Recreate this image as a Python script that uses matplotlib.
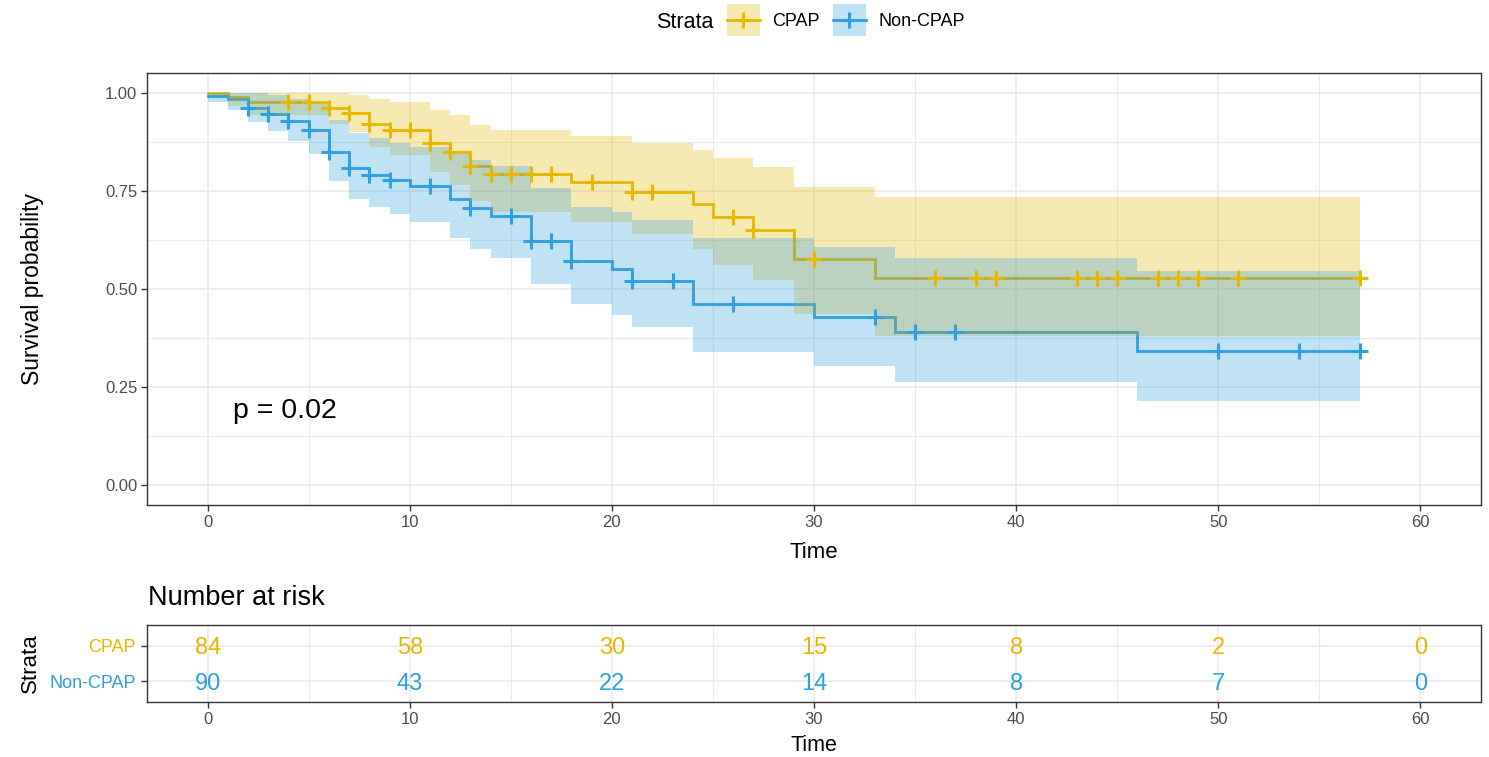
import numpy as np
import matplotlib
matplotlib.use("Agg")
import matplotlib.pyplot as plt
from matplotlib.patches import Patch
from matplotlib.lines import Line2D
from matplotlib.legend_handler import HandlerLine2D
from matplotlib.ticker import MultipleLocator

plt.rcParams['font.family'] = ['Liberation Sans', 'DejaVu Sans']

# ---------------- data ----------------
groups = ["CPAP", "Non-CPAP"]
group_colors = ["#E7B800", "#2E9FDF"]

# CPAP Kaplan-Meier steps
cpap_time  = [0, 1, 2, 6, 7, 8, 9, 11, 12, 13, 14, 18, 21, 24, 25, 27, 29, 33]
cpap_surv  = [1.000, 0.988, 0.976, 0.961, 0.947, 0.920, 0.906, 0.872, 0.850, 0.814,
              0.793, 0.772, 0.748, 0.717, 0.684, 0.650, 0.577, 0.528]
cpap_lower = [1.000, 0.965, 0.944, 0.921, 0.901, 0.862, 0.842, 0.797, 0.766, 0.723,
              0.696, 0.670, 0.641, 0.601, 0.561, 0.522, 0.437, 0.381]
cpap_upper = [1.000, 1.000, 1.000, 1.000, 0.995, 0.983, 0.976, 0.955, 0.944, 0.917,
              0.904, 0.890, 0.873, 0.855, 0.834, 0.810, 0.759, 0.733]
cpap_censor = [4, 5, 6, 7, 8, 9, 10, 11, 12, 13, 14, 15, 16, 17, 19, 21, 22, 26, 27,
               30, 36, 38, 39, 43, 44, 45, 47, 48, 49, 51, 57]

# Non-CPAP Kaplan-Meier steps
noncpap_time  = [0, 1, 2, 3, 4, 5, 6, 7, 8, 9, 10, 12, 13, 14, 16, 18, 20, 21, 24, 30, 34, 46]
noncpap_surv  = [0.992, 0.983, 0.962, 0.946, 0.929, 0.906, 0.848, 0.808, 0.791, 0.778,
                 0.761, 0.730, 0.706, 0.686, 0.621, 0.572, 0.551, 0.520, 0.462, 0.429,
                 0.390, 0.343]
noncpap_lower = [0.975, 0.955, 0.925, 0.902, 0.878, 0.845, 0.775, 0.728, 0.710, 0.692,
                 0.671, 0.631, 0.603, 0.578, 0.512, 0.461, 0.434, 0.402, 0.340, 0.304,
                 0.263, 0.216]
noncpap_upper = [1.000, 1.000, 1.000, 0.995, 0.985, 0.972, 0.930, 0.898, 0.884, 0.872,
                 0.862, 0.845, 0.828, 0.814, 0.756, 0.710, 0.697, 0.675, 0.630, 0.606,
                 0.578, 0.547]
noncpap_censor = [2, 3, 4, 5, 6, 7, 8, 9, 11, 13, 15, 16, 17, 18, 21, 23, 26, 33, 35,
                  37, 50, 54, 57]

# Number at risk
risk_times = [0, 10, 20, 30, 40, 50, 60]
risk_cpap = [84, 58, 30, 15, 8, 2, 0]
risk_noncpap = [90, 43, 22, 14, 8, 7, 0]

p_value_label = "p = 0.02"
y_tick_labels = ["0.00", "0.25", "0.50", "0.75", "1.00"]

series = [
    (cpap_time, cpap_surv, cpap_lower, cpap_upper, cpap_censor),
    (noncpap_time, noncpap_surv, noncpap_lower, noncpap_upper, noncpap_censor),
]
risk_counts = [risk_cpap, risk_noncpap]

# ---------------- figure ----------------
W, H = 1489, 757
fig = plt.figure(figsize=(W / 100, H / 100), dpi=100)

def fbox(l, t, r, b):
    return [l / W, 1 - b / H, (r - l) / W, (b - t) / H]

grid_c = "#EBEBEB"
border_c = "#333333"
tick_c = "#4D4D4D"
LW = 2.0
MS = 12
MEW = 2.2

ax = fig.add_axes(fbox(147, 73, 1481, 505))
ax.set_xlim(-3, 63)
ax.set_ylim(-0.05, 1.05)
ax.xaxis.set_major_locator(MultipleLocator(10))
ax.xaxis.set_minor_locator(MultipleLocator(5))
ax.set_yticks([0, 0.25, 0.5, 0.75, 1.0])
ax.set_yticklabels(y_tick_labels)
ax.yaxis.set_minor_locator(MultipleLocator(0.125))
ax.grid(which="major", color=grid_c, lw=1.2)
ax.grid(which="minor", color=grid_c, lw=0.8)
ax.set_axisbelow(True)
for s in ax.spines.values():
    s.set_color(border_c)
    s.set_linewidth(1.0)
ax.tick_params(which="major", length=4, width=1.0, color=border_c,
               labelcolor=tick_c, labelsize=12, pad=3)
ax.tick_params(which="minor", length=0)

for (t, s, lo, up, cens), col in zip(series, group_colors):
    t = np.asarray(t, float)
    s = np.asarray(s, float)
    lo = np.asarray(lo, float)
    up = np.asarray(up, float)
    t_end = max(max(cens), t[-1])
    tx = np.append(t, t_end)
    sx = np.append(s, s[-1])
    lx = np.append(lo, lo[-1])
    ux = np.append(up, up[-1])
    ax.step(tx, sx, where="post", color=col, lw=LW, zorder=2,
            solid_joinstyle="miter")
    ax.fill_between(tx, lx, ux, step="post", color=col, alpha=0.3, lw=0, zorder=3)
    idx = np.searchsorted(t, np.asarray(cens, float), side="right") - 1
    ax.plot(cens, s[idx], ls="none", marker="+", ms=MS, mew=MEW, color=col, zorder=4)

ax.text(1.25, 0.19, p_value_label, fontsize=20.5, ha="left", va="center", color="black")

ax.set_xlabel("Time", fontsize=16, color="black")
ax.xaxis.label.set_va("center")
ax.xaxis.set_label_coords(0.5, -0.11)
ax.set_ylabel("Survival probability", fontsize=16.5, color="black")
ax.yaxis.label.set_va("center")
ax.yaxis.set_label_coords(-0.0862, 0.5)


# legend: line centred within the filled key box
class CenteredLineHandler(HandlerLine2D):
    def create_artists(self, legend, orig_handle, xdescent, ydescent,
                       width, height, fontsize, trans):
        arts = super().create_artists(legend, orig_handle, xdescent, ydescent,
                                      width, height, fontsize, trans)
        yc = height / 2 - ydescent
        for a in arts:
            a.set_ydata([yc] * len(a.get_xdata()))
        return arts


handles = []
for col in group_colors:
    handles.append((Patch(facecolor=col, alpha=0.3, edgecolor="none"),
                    Line2D([], [], color=col, lw=LW, marker="+", ms=MS, mew=MEW)))
fig.text(685 / W, 1 - 22 / H, "Strata", fontsize=15.5, ha="center", va="center")
leg = fig.legend(handles, groups, ncol=2, loc="center left",
                 bbox_to_anchor=(727 / W, 1 - 20 / H), frameon=False,
                 borderpad=0, borderaxespad=0, handlelength=1.8, handleheight=2.36,
                 handletextpad=0.7, columnspacing=0.75, fontsize=13,
                 handler_map={Line2D: CenteredLineHandler()})

# ---------------- risk table ----------------
ax2 = fig.add_axes(fbox(147, 625, 1481, 702))
ax2.set_xlim(-3, 63)
ax2.set_ylim(0.4, 2.6)
ax2.xaxis.set_major_locator(MultipleLocator(10))
ax2.xaxis.set_minor_locator(MultipleLocator(5))
ypos = [2, 1]
ax2.set_yticks(ypos)
ax2.set_yticklabels(groups)
for lab, col in zip(ax2.get_yticklabels(), group_colors):
    lab.set_color(col)
ax2.grid(which="major", color=grid_c, lw=1.2)
ax2.grid(which="minor", axis="x", color=grid_c, lw=0.8)
ax2.set_axisbelow(True)
for s in ax2.spines.values():
    s.set_color(border_c)
    s.set_linewidth(1.0)
ax2.tick_params(which="major", length=4, width=1.0, color=border_c, labelsize=12, pad=3)
ax2.tick_params(axis="y", labelsize=13, pad=4)
ax2.tick_params(axis="x", labelcolor=tick_c)
ax2.tick_params(which="minor", length=0)

for counts, yp, col in zip(risk_counts, ypos, group_colors):
    for tt, n in zip(risk_times, counts):
        ax2.text(tt, yp, str(n), color=col, fontsize=17, ha="center",
                 va="center_baseline")

ax2.set_xlabel("Time", fontsize=15.5, color="black")
ax2.xaxis.label.set_va("center")
ax2.xaxis.set_label_coords(0.5, -0.56)
ax2.set_ylabel("Strata", fontsize=16, color="black")
ax2.yaxis.label.set_va("center")
ax2.yaxis.set_label_coords(-0.0877, 0.5)

fig.text(148 / W, 1 - 598 / H, "Number at risk", fontsize=19.5, ha="left", va="center")

fig.savefig("out.png", dpi=100)
